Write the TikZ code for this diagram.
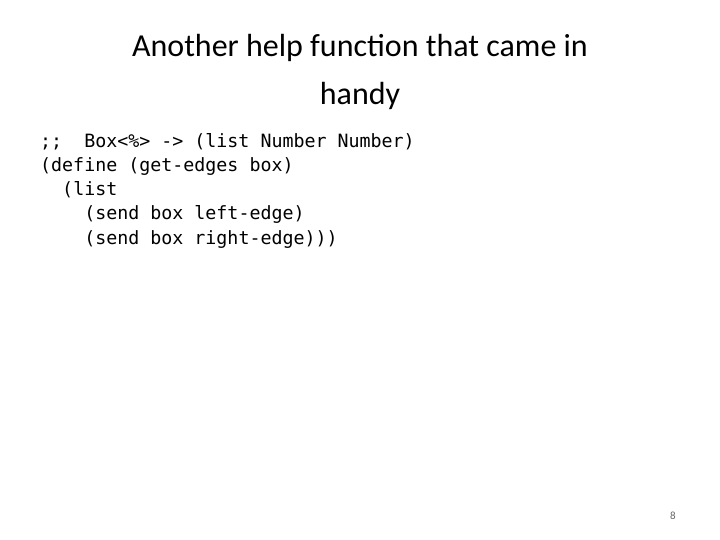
\documentclass[tikz,border=0pt]{standalone}
\usepackage{fontspec}
\setmainfont{Carlito}
\setmonofont{DejaVu Sans Mono}
\usetikzlibrary{positioning}
\tikzset{title/.style = {
  font=\fontsize{32}{38}\selectfont,
  align=center, inner sep=0pt
  }}
\tikzset{code/.style = {
  font=\ttfamily\fontsize{18.3}{24}\selectfont,
  anchor=base west, inner sep=0pt
  }}
\begin{document}
\begin{tikzpicture}[x=1pt,y=1pt]
% PAGE
\useasboundingbox (0,0) rectangle (720,-540);

% TITLE
\node (head1) [title, anchor=base] at (360,-57) {Another help function that came in};
\node (head2) [title, anchor=base] at (360,-105) {handy};

% CODE
\node (line1) [code] at (40,-148) {;;~ Box<\%> -> (list Number Number)};
\node (line2) [code] at (40,-172) {(define (get-edges box)};
\node (line3) [code] at (40,-196) {~~(list};
\node (line4) [code] at (40,-220) {~~~~(send box left-edge)};
\node (line5) [code] at (40,-244) {~~~~(send box right-edge)))};

% PAGE NUMBER
\node (pagenum) [font=\fontsize{11}{13}\selectfont, text=black!60, anchor=base] at (673,-519) {8};
\end{tikzpicture}
\end{document}
